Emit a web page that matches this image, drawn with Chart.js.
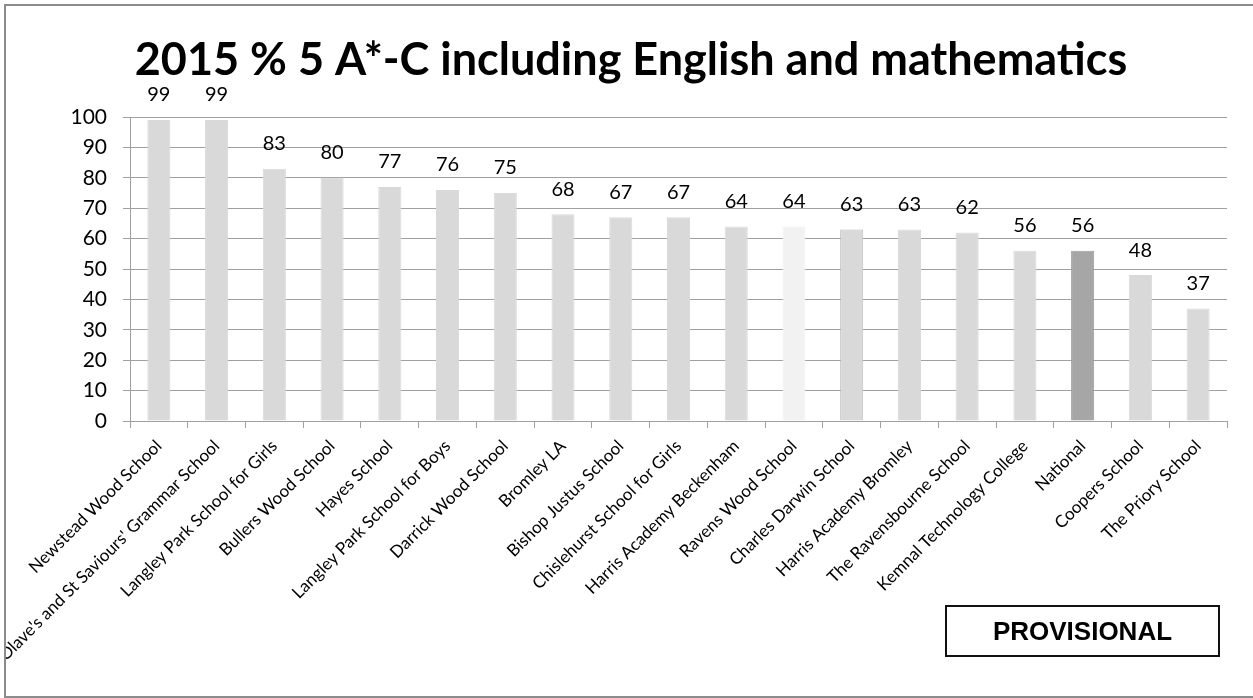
<!DOCTYPE html>
<html>
<head>
<meta charset="utf-8">
<script src="https://cdn.jsdelivr.net/npm/chart.js@4"></script>
<style>
    html, body { margin: 0; padding: 0; background: #fff; overflow: hidden; }
    #frame {
        position: absolute; left: 4px; top: 4px;
        width: 1262px; height: 690px;
        border: 2px solid #8c8c8c;
        overflow: hidden;
    }
    #chart { position: absolute; left: 0; top: 0; }
    #stamp {
        position: absolute; left: 945px; top: 605px;
        width: 271px; height: 48px;
        border: 2px solid #111;
        font: bold 26px "Liberation Sans", Arial, sans-serif;
        line-height: 48px; text-align: center; color: #000;
    }
</style>
</head>
<body>
<div id="frame"><canvas id="chart" width="1250" height="690"></canvas></div>
<div id="stamp">PROVISIONAL</div>
<script>
const titleText = '2015 % 5 A*-C including English and mathematics';

const schools = [
    'Newstead Wood School',
    "St Olave's and St Saviours' Grammar School",
    'Langley Park School for Girls',
    'Bullers Wood School',
    'Hayes School',
    'Langley Park School for Boys',
    'Darrick Wood School',
    'Bromley LA',
    'Bishop Justus School',
    'Chislehurst School for Girls',
    'Harris Academy Beckenham',
    'Ravens Wood School',
    'Charles Darwin School',
    'Harris Academy Bromley',
    'The Ravensbourne School',
    'Kemnal Technology College',
    'National',
    'Coopers School',
    'The Priory School'
];

const percentages = [99, 99, 83, 80, 77, 76, 75, 68, 67, 67, 64, 64, 63, 63, 62, 56, 56, 48, 37];

const yTicks = [0, 10, 20, 30, 40, 50, 60, 70, 80, 90, 100];

const fontFamily = 'Lato, "Open Sans", sans-serif';

// bar shading: national average darker, one school lighter
const fillFor = name => name === 'National' ? '#a6a6a6' : name === 'Ravens Wood School' ? '#f2f2f2' : '#d9d9d9';
const edgeFor = name => name === 'National' ? '#9a9a9a' : name === 'Charles Darwin School' ? '#bdbdbd' : fillFor(name);

//Value labels above the bars
const valueLabels = {
    id: 'valueLabels',
    afterDatasetsDraw(chart) {
        const ctx = chart.ctx;
        const meta = chart.getDatasetMeta(0);
        ctx.save();
        ctx.font = '20px ' + fontFamily;
        ctx.fillStyle = '#000';
        ctx.textAlign = 'center';
        ctx.textBaseline = 'bottom';
        meta.data.forEach((bar, i) => {
            ctx.fillText(String(percentages[i]), bar.x, bar.y - 15);
        });
        ctx.restore();
    }
};

var context = document.getElementById('chart').getContext('2d');

var chart = new Chart(context, {
    type: 'bar',
    data: {
        labels: schools,
        datasets: [{
            data: percentages,
            backgroundColor: schools.map(fillFor),
            borderColor: schools.map(edgeFor),
            borderWidth: 1,
            categoryPercentage: 1,
            barPercentage: 0.4
        }]
    },
    options: {
        responsive: false,
        animation: false,
        layout: { padding: 0 },
        plugins: {
            legend: { display: false },
            tooltip: { enabled: false },
            title: {
                display: true,
                text: titleText,
                color: '#000',
                font: { family: fontFamily, size: 45, weight: 'bold' },
                padding: { top: 27, bottom: 30 }
            }
        },
        scales: {
            x: {
                grid: {
                    display: true,
                    drawOnChartArea: false,
                    drawTicks: true,
                    tickLength: 7,
                    color: '#a0a0a0'
                },
                border: { color: '#a0a0a0', width: 1 },
                ticks: {
                    autoSkip: false,
                    minRotation: 45,
                    maxRotation: 45,
                    padding: 8,
                    color: '#000',
                    font: { family: fontFamily, size: 17 }
                },
                afterFit(scale) {
                    scale.height = 275;
                    scale.paddingLeft = 0;
                    scale.paddingRight = 29;
                }
            },
            y: {
                min: 0,
                max: 100,
                afterBuildTicks(scale) {
                    scale.ticks = yTicks.map(v => ({ value: v }));
                },
                grid: {
                    color: '#a0a0a0',
                    tickLength: 7
                },
                border: { color: '#a0a0a0', width: 1 },
                ticks: {
                    padding: 16,
                    color: '#000',
                    font: { family: fontFamily, size: 21 }
                },
                afterFit(scale) {
                    scale.width = 124;
                }
            }
        }
    },
    plugins: [valueLabels]
});
</script>
</body>
</html>
